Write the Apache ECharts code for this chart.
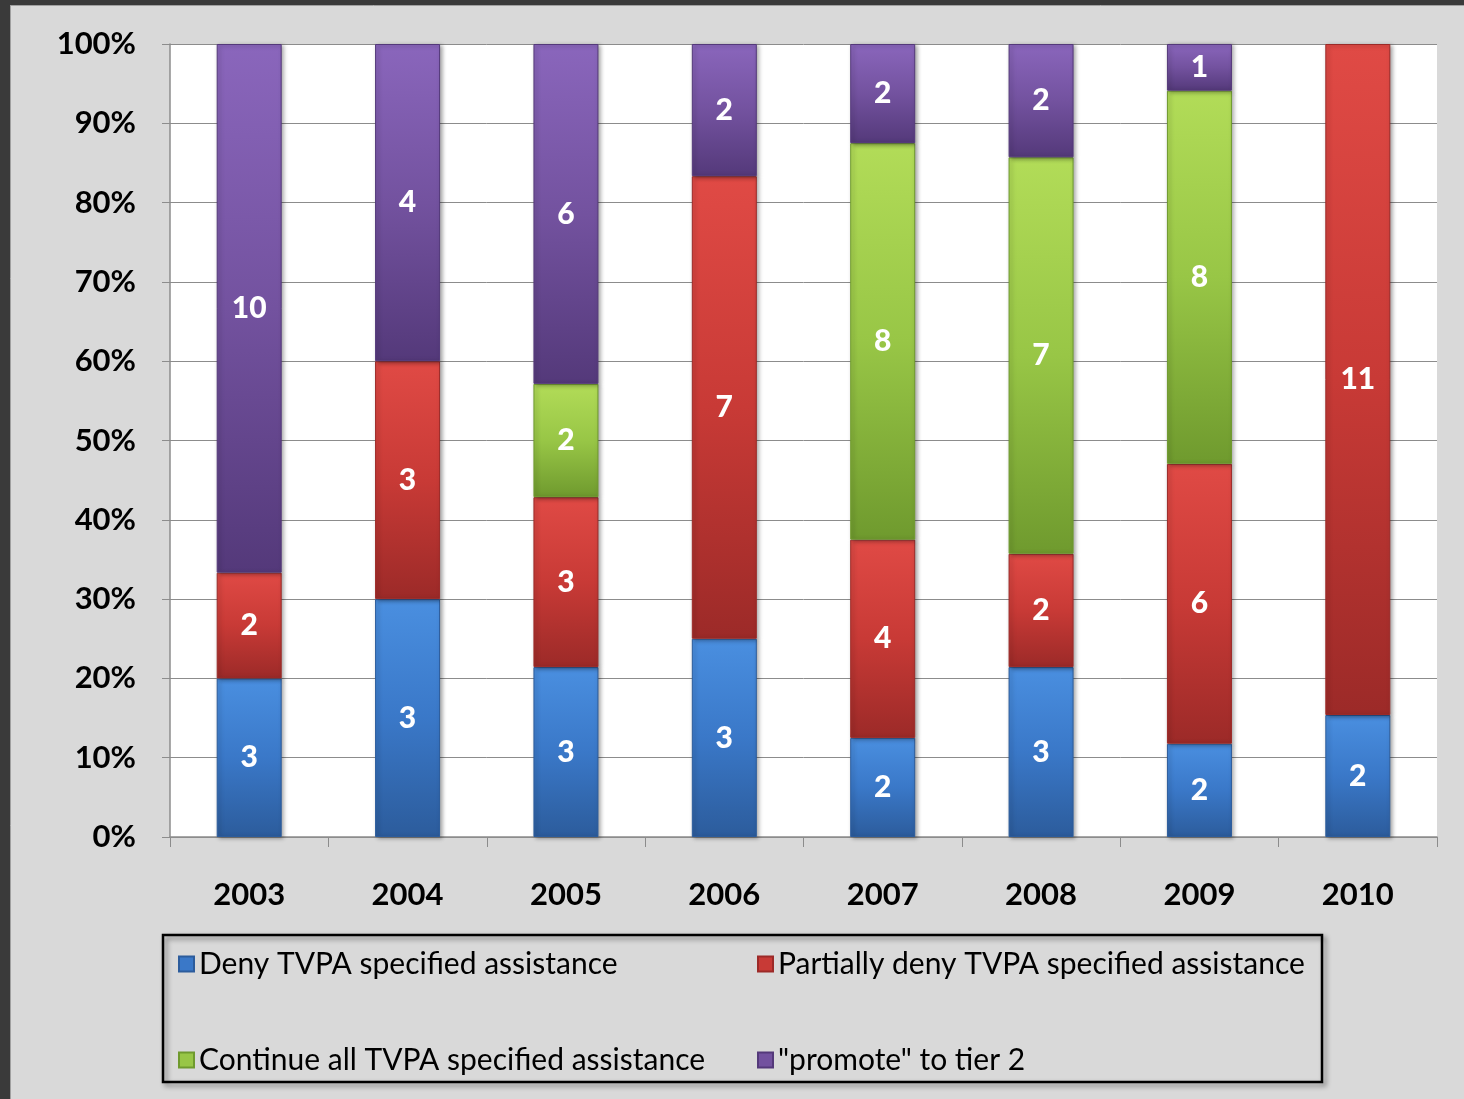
<!DOCTYPE html>
<html>
<head>
<meta charset="utf-8">
<script src="https://cdn.jsdelivr.net/npm/echarts@6/dist/echarts.min.js"></script>
<style>
html,body{margin:0;padding:0;background:#3a3a3a;}
#chart{width:1464px;height:1099px;}
</style>
</head>
<body>
<div id="chart"></div>
<script>
const years = ['2003','2004','2005','2006','2007','2008','2009','2010'];
const deny     = [3, 3, 3, 3, 2, 3, 2, 2];
const partial  = [2, 3, 3, 7, 4, 2, 6, 11];
const cont     = [0, 0, 2, 0, 8, 7, 8, 0];
const promote  = [10, 4, 6, 2, 2, 2, 1, 0];
const seriesNames = ['Deny TVPA specified assistance','Partially deny TVPA specified assistance','Continue all TVPA specified assistance','"promote" to tier 2'];
const yTicks = [0,10,20,30,40,50,60,70,80,90,100];

const raw = [deny, partial, cont, promote];
const totals = years.map((_, i) => raw.reduce((s, arr) => s + arr[i], 0));

const colors = [
  ['#4a8fe0','#3a78c8','#2c5c9c'],
  ['#e04a45','#c83a36','#9c2a28'],
  ['#b2dc58','#98c646','#6f9a2e'],
  ['#8a66bc','#73529f','#54397a']
];
const legendColor = ['#3a78c8','#c83a36','#98c646','#73529f'];

function grad(c){
  return new echarts.graphic.LinearGradient(0,0,0,1,[
    {offset:0,color:c[0]},{offset:0.5,color:c[1]},{offset:1,color:c[2]}
  ]);
}

const series = raw.map((arr, si) => ({
  name: seriesNames[si],
  type: 'bar',
  stack: 'total',
  barWidth: 65,
  data: arr.map((v, i) => v > 0 ? {value: v / totals[i] * 100, raw: v} : '-'),
  itemStyle: {
    color: grad(colors[si]),
    borderColor: colors[si][2],
    borderWidth: 1,
    shadowColor: 'rgba(0,0,0,0.35)',
    shadowBlur: 4,
    shadowOffsetX: 2,
    shadowOffsetY: 1
  },
  label: {
    show: true,
    position: 'inside',
    color: '#fff',
    fontFamily: 'Lato',
    fontWeight: 900,
    fontSize: 30,
    formatter: p => (p.data && p.data.raw > 0) ? String(p.data.raw) : ''
  }
}));

const legendPos = [[173,944],[752,944],[173,1040],[752,1040]];
const legends = seriesNames.map((n, i) => ({
  data: [{name: n, itemStyle: {color: legendColor[i]}}],
  left: legendPos[i][0],
  top: legendPos[i][1],
  icon: 'rect',
  itemWidth: 15,
  itemHeight: 15,
  itemGap: 10,
  textStyle: {fontFamily: 'Lato', fontSize: 30, color: '#000'},
  selectedMode: false
}));

const chart = echarts.init(document.getElementById('chart'), null, {renderer:'canvas'});
chart.setOption({
  backgroundColor: '#d9d9d9',
  animation: false,
  color: legendColor,
  grid: {left: 170, right: 27, top: 44, bottom: 262, show: true, backgroundColor: '#ffffff', borderWidth: 0},
  xAxis: {
    type: 'category',
    data: years,
    axisLine: {lineStyle: {color: '#8c8c8c', width: 1.5}},
    axisTick: {show: true, length: 10, lineStyle: {color: '#8c8c8c'}},
    axisLabel: {margin: 42, fontFamily: 'Lato', fontWeight: 'bold', fontSize: 31, color: '#000'}
  },
  yAxis: {
    type: 'value',
    min: 0, max: 100, interval: 10,
    axisLine: {show: true, lineStyle: {color: '#8c8c8c', width: 1.5}},
    axisTick: {show: true, length: 8, lineStyle: {color: '#8c8c8c'}},
    splitLine: {lineStyle: {color: '#8c8c8c', width: 1}},
    axisLabel: {margin: 34, fontFamily: 'Lato', fontWeight: 'bold', fontSize: 31, color: '#000',
      formatter: v => yTicks.includes(v) ? v + '%' : ''}
  },
  legend: legends,
  graphic: [
    {type:'rect', shape:{x:0,y:0,width:10,height:1099}, style:{fill:'#3a3a3a'}, z: 100},
    {type:'rect', shape:{x:0,y:0,width:1464,height:5}, style:{fill:'#3a3a3a'}, z: 100},
    {type:'line', shape:{x1:10.5,y1:5,x2:10.5,y2:1099}, style:{stroke:'#a0a0a0', lineWidth:1}, z: 100},
    {type:'line', shape:{x1:10,y1:5.5,x2:1464,y2:5.5}, style:{stroke:'#a0a0a0', lineWidth:1}, z: 100},
    {type:'rect', shape:{x:163,y:935,width:1159,height:147},
      style:{fill:'rgba(0,0,0,0)', stroke:'#000', lineWidth:2.5,
        shadowColor:'rgba(0,0,0,0.45)', shadowBlur:5, shadowOffsetX:3, shadowOffsetY:3}, z: 1}
  ],
  series: series
});
</script>
</body>
</html>
